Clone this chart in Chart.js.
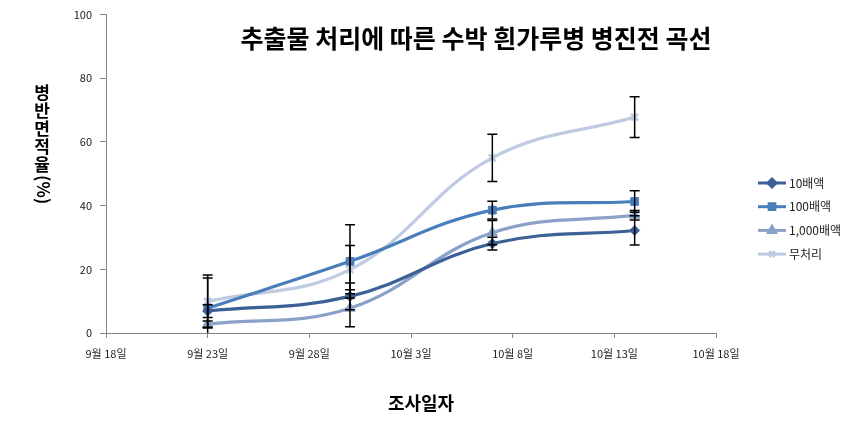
<!DOCTYPE html>
<html>
<head>
<meta charset="utf-8">
<script src="https://cdn.jsdelivr.net/npm/chart.js@4/dist/chart.umd.min.js"></script>
<style>
  html, body { margin: 0; padding: 0; background: #fff; }
</style>
</head>
<body>
<canvas id="grafico" width="860" height="436"></canvas>
<script>
// dados
const chartTitle = '추출물 처리에 따른 수박 흰가루병 병진전 곡선';
const yTitleChars = '병반면적율';
const yTitleUnit = '(%)';
const xTitle = '조사일자';

const startDate = '9-18';
const surveyDates = ['9-23', '9-30', '10-7', '10-14'];
const xTickLabels = ['9월 18일', '9월 23일', '9월 28일', '10월 3일', '10월 8일', '10월 13일', '10월 18일'];
const yTicks = [0, 20, 40, 60, 80, 100];

const seriesNames = ['10배액', '100배액', '1,000배액', '무처리'];
const s10 = [6.9, 11.5, 28.1, 32.2];
const s100 = [7.8, 22.5, 38.6, 41.3];
const s1000 = [2.8, 7.8, 31.5, 37.0];
const sNone = [9.9, 19.9, 55.0, 67.8];

const err10 = [2.0, 4.2, 2.0, 4.6];
const err100 = [9.5, 11.5, 2.8, 3.4];
const err1000 = [1.0, 5.8, 3.8, 1.5];
const errNone = [8.3, 7.6, 7.4, 6.4];

const fonte = '"Noto Sans CJK KR", "Noto Sans", sans-serif';

function diaDe(md) {
    const [m, d] = md.split('-').map(Number);
    const [m0, d0] = startDate.split('-').map(Number);
    return (Date.UTC(2000, m - 1, d) - Date.UTC(2000, m0 - 1, d0)) / 86400000;
}

const xDias = surveyDates.map(diaDe);

function pontos(valores) {
    return valores.map((v, i) => ({ x: xDias[i], y: v }));
}

const cores = ['#3b6196', '#4a7ebb', '#8aa2ca', '#bfcbe1'];
const estilos = ['rectRot', 'rect', 'triangle', 'crossRot'];
const raios = [5, 5.5, 6, 5];
const valores = [s10, s100, s1000, sNone];
const erros = [err10, err100, err1000, errNone];

const datasets = seriesNames.map((nome, i) => ({
    label: nome,
    data: pontos(valores[i]),
    erros: erros[i],
    borderColor: cores[i],
    backgroundColor: cores[i],
    pointBackgroundColor: cores[i],
    pointBorderColor: cores[i],
    pointStyle: estilos[i],
    pointRadius: raios[i],
    pointBorderWidth: i === 3 ? 2.5 : 1,
    borderWidth: 3.2,
    tension: 0.4,
    fill: false,
    clip: false
}));

// barras de erro
const barrasErro = {
    id: 'barrasErro',
    afterDatasetsDraw(chart) {
        const ctx = chart.ctx;
        const x = chart.scales.x, y = chart.scales.y;
        const area = chart.chartArea;
        ctx.save();
        ctx.beginPath();
        ctx.rect(area.left, area.top - 2, area.right - area.left, area.bottom - area.top + 2);
        ctx.clip();
        ctx.strokeStyle = '#000';
        ctx.lineWidth = 1.5;
        chart.data.datasets.forEach(ds => {
            ds.data.forEach((p, i) => {
                const e = ds.erros[i];
                const px = x.getPixelForValue(p.x);
                const topo = y.getPixelForValue(p.y + e);
                const base = y.getPixelForValue(p.y - e);
                ctx.beginPath();
                ctx.moveTo(px, topo); ctx.lineTo(px, base);
                ctx.moveTo(px - 5, topo); ctx.lineTo(px + 5, topo);
                ctx.moveTo(px - 5, base); ctx.lineTo(px + 5, base);
                ctx.stroke();
            });
        });
        ctx.restore();
    }
};

// títulos e legenda desenhados à mão
const textos = {
    id: 'textos',
    afterDraw(chart) {
        const ctx = chart.ctx;
        const area = chart.chartArea;
        ctx.save();
        ctx.fillStyle = '#000';
        ctx.textAlign = 'center';
        ctx.textBaseline = 'middle';

        ctx.font = 'bold 25px ' + fonte;
        ctx.fillText(chartTitle, 476, 38);

        ctx.font = 'bold 18px ' + fonte;
        ctx.fillText(xTitle, (area.left + area.right) / 2 + 10, 403);

        // eixo y: letras empilhadas na vertical, unidade girada
        ctx.font = 'bold 17px ' + fonte;
        [...yTitleChars].forEach((c, i) => {
            ctx.fillText(c, 42, 93 + i * 18);
        });
        ctx.save();
        ctx.translate(43, 175);
        ctx.rotate(Math.PI / 2);
        ctx.textAlign = 'left';
        ctx.fillText(yTitleUnit, 0, 0);
        ctx.restore();

        // legenda
        ctx.font = '12px ' + fonte;
        ctx.textAlign = 'left';
        chart.data.datasets.forEach((ds, i) => {
            const ly = 183 + i * 23.7;
            const lx = area.right + 42;
            ctx.strokeStyle = ds.borderColor;
            ctx.lineWidth = 3;
            ctx.beginPath();
            ctx.moveTo(lx, ly); ctx.lineTo(lx + 28, ly);
            ctx.stroke();
            ctx.fillStyle = ds.pointBackgroundColor;
            ctx.strokeStyle = ds.pointBorderColor;
            Chart.helpers.drawPoint(ctx, {
                pointStyle: ds.pointStyle,
                radius: 4,
                borderWidth: i === 3 ? 2 : 1,
                rotation: 0
            }, lx + 14, ly);
            ctx.fillStyle = '#222';
            ctx.fillText(ds.label, lx + 31, ly);
        });
        ctx.restore();
    }
};

const ctx = document.getElementById('grafico').getContext('2d');
new Chart(ctx, {
    type: 'line',
    data: { datasets },
    options: {
        responsive: false,
        animation: false,
        devicePixelRatio: 1,
        layout: { padding: { left: 56, right: 144, top: 8, bottom: 0 } },
        scales: {
            x: {
                type: 'linear',
                min: 0,
                max: 30,
                afterFit: s => { s.height = 103; },
                afterBuildTicks: s => { s.ticks = xTickLabels.map((_, i) => ({ value: i * 5 })); },
                grid: { drawOnChartArea: false, color: '#868686', tickLength: 5 },
                border: { color: '#868686', width: 1 },
                ticks: {
                    autoSkip: false,
                    maxRotation: 0,
                    padding: 9,
                    color: '#222',
                    font: { family: fonte, size: 11 },
                    callback: (v, i) => xTickLabels[i]
                }
            },
            y: {
                min: 0,
                max: 100,
                afterFit: s => { s.width = 50; },
                afterBuildTicks: s => { s.ticks = yTicks.map(v => ({ value: v })); },
                grid: { drawOnChartArea: false, color: '#868686', tickLength: 6 },
                border: { color: '#868686', width: 1 },
                ticks: {
                    padding: 8,
                    color: '#222',
                    font: { family: fonte, size: 11 }
                }
            }
        },
        plugins: {
            legend: { display: false },
            title: { display: false },
            tooltip: { enabled: false }
        }
    },
    plugins: [barrasErro, textos]
});
</script>
</body>
</html>
